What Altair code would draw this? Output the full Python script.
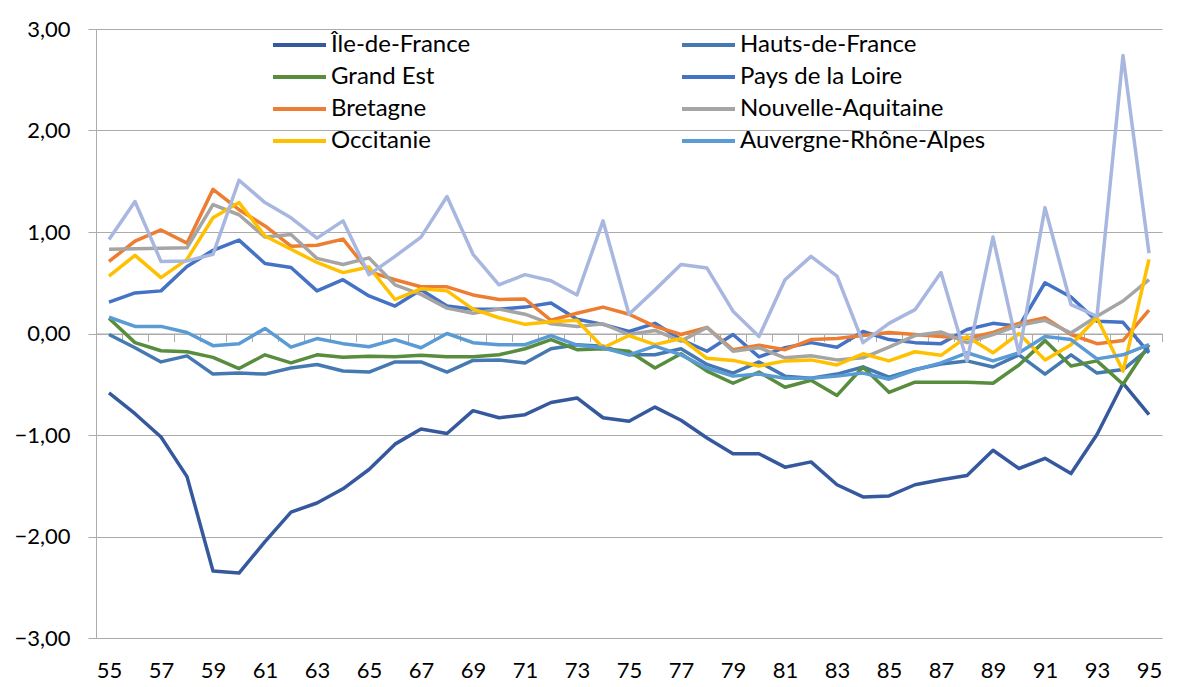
import altair as alt
import pandas as pd

years = list(range(55, 96))

regions = ["Île-de-France", "Hauts-de-France", "Grand Est", "Pays de la Loire",
           "Bretagne", "Nouvelle-Aquitaine", "Occitanie", "Auvergne-Rhône-Alpes"]
colors = ["#36599E", "#4679B1", "#578D3D", "#4472C4",
          "#ED7D31", "#A5A5A5", "#FFC000", "#5B9BD5"]
extra_name = "Autre région"
extra_color = "#A8B7DF"

idf = [-0.585, -0.79, -1.02, -1.41, -2.34, -2.36, -2.05, -1.76, -1.67, -1.53, -1.34, -1.09,
       -0.94, -0.985, -0.76, -0.83, -0.80, -0.68, -0.635, -0.83, -0.865, -0.725, -0.855, -1.03, -1.185, -1.185,
       -1.317, -1.265, -1.49, -1.61, -1.60, -1.49, -1.44, -1.40, -1.15, -1.33, -1.23, -1.38, -0.995, -0.49, -0.80]
hdf = [-0.01, -0.14, -0.28, -0.22, -0.40, -0.39, -0.40, -0.34, -0.305, -0.37, -0.38, -0.28,
       -0.28, -0.38, -0.265, -0.26, -0.29, -0.15, -0.11, -0.125, -0.21, -0.21, -0.15, -0.305, -0.39, -0.28,
       -0.42, -0.44, -0.40, -0.33, -0.43, -0.355, -0.30, -0.27, -0.33, -0.21, -0.40, -0.21, -0.39, -0.355, -0.15]
ge = [0.15, -0.09, -0.17, -0.18, -0.235, -0.345, -0.21, -0.29, -0.21, -0.235, -0.225, -0.23,
      -0.215, -0.23, -0.23, -0.21, -0.15, -0.06, -0.16, -0.15, -0.175, -0.34, -0.20, -0.37, -0.49, -0.38,
      -0.53, -0.46, -0.61, -0.33, -0.58, -0.48, -0.48, -0.48, -0.49, -0.31, -0.07, -0.32, -0.27, -0.50, -0.11]
pdl = [0.31, 0.40, 0.42, 0.66, 0.82, 0.92, 0.69, 0.65, 0.42, 0.53, 0.37, 0.27,
       0.43, 0.27, 0.24, 0.24, 0.26, 0.30, 0.14, 0.09, 0.02, 0.10, -0.06, -0.175, -0.01, -0.23,
       -0.14, -0.09, -0.135, 0.02, -0.06, -0.09, -0.10, 0.04, 0.10, 0.07, 0.50, 0.36, 0.12, 0.11, -0.19]
bret = [0.71, 0.91, 1.02, 0.89, 1.42, 1.22, 1.06, 0.86, 0.87, 0.93, 0.61, 0.53,
        0.46, 0.46, 0.38, 0.335, 0.34, 0.13, 0.20, 0.26, 0.19, 0.07, -0.01, 0.06, -0.16, -0.115,
        -0.16, -0.06, -0.05, -0.02, 0.01, -0.01, -0.03, -0.05, 0.01, 0.10, 0.155, -0.01, -0.10, -0.07, 0.23]
na = [0.83, 0.835, 0.84, 0.845, 1.27, 1.17, 0.95, 0.975, 0.74, 0.68, 0.745, 0.48,
      0.385, 0.25, 0.20, 0.24, 0.19, 0.095, 0.07, 0.095, -0.01, 0.03, -0.075, 0.06, -0.175, -0.14,
      -0.24, -0.22, -0.26, -0.24, -0.135, -0.02, 0.015, -0.09, -0.01, 0.08, 0.13, 0.005, 0.17, 0.32, 0.53]
occ = [0.565, 0.77, 0.55, 0.73, 1.14, 1.29, 0.96, 0.83, 0.70, 0.60, 0.655, 0.335,
       0.44, 0.42, 0.24, 0.155, 0.09, 0.115, 0.13, -0.14, -0.02, -0.11, -0.05, -0.245, -0.265, -0.32,
       -0.27, -0.26, -0.31, -0.20, -0.27, -0.18, -0.215, -0.03, -0.19, 0.00, -0.26, -0.11, 0.155, -0.37, 0.73]
ara = [0.16, 0.07, 0.07, 0.01, -0.12, -0.10, 0.05, -0.135, -0.05, -0.10, -0.13, -0.06,
       -0.14, 0.00, -0.09, -0.11, -0.11, -0.02, -0.115, -0.14, -0.21, -0.125, -0.21, -0.34, -0.42, -0.40,
       -0.44, -0.44, -0.42, -0.39, -0.45, -0.36, -0.29, -0.19, -0.27, -0.19, -0.03, -0.06, -0.25, -0.21, -0.11]
extra = [0.925, 1.30, 0.71, 0.715, 0.78, 1.51, 1.29, 1.14, 0.94, 1.11, 0.58, 0.76,
         0.95, 1.35, 0.78, 0.48, 0.58, 0.52, 0.38, 1.11, 0.19, 0.43, 0.68, 0.645, 0.22, -0.03,
         0.53, 0.76, 0.565, -0.09, 0.10, 0.235, 0.60, -0.27, 0.95, -0.20, 1.24, 0.285, 0.17, 2.74, 0.79]

y_ticks = [-3, -2, -1, 0, 1, 2, 3]
x_labels = [y for y in years if y % 2 == 1]
x_bounds = [y - 0.5 for y in years] + [years[-1] + 0.5]

series = [idf, hdf, ge, pdl, bret, na, occ, ara]
rows = []
for name, vals in zip(regions, series):
    for yr, v in zip(years, vals):
        rows.append({"annee": yr, "valeur": v, "region": name})
df = pd.DataFrame(rows)
df_extra = pd.DataFrame({"annee": years, "valeur": extra, "region": extra_name})

W, H = 1066, 609
FONT = "Lato"
GRID = "#ABABAB"

x_scale = alt.Scale(domain=[years[0] - 0.5, years[-1] + 0.5], nice=False, zero=False)
y_enc = alt.Y(
    "valeur:Q",
    scale=alt.Scale(domain=[-3, 3], nice=False),
    axis=alt.Axis(values=y_ticks, title=None, grid=True, gridColor=GRID, gridWidth=1,
                  domain=True, domainColor=GRID, tickColor=GRID, tickSize=8,
                  labelPadding=18, labelFontSize=22, labelFont=FONT, labelColor="#000000",
                  labelExpr="replace(format(datum.value, '.2f'), '.', ',')",
                  minExtent=80, maxExtent=80),
)

main = alt.Chart(df).mark_line(strokeWidth=3.5, strokeJoin="round").encode(
    x=alt.X("annee:Q", scale=x_scale,
            axis=alt.Axis(values=x_labels, title=None, grid=False, domain=False, ticks=False,
                          labelFontSize=22, labelFont=FONT, labelColor="#000000",
                          labelPadding=22, labelFlush=False, labelOverlap=False, format="d")),
    y=y_enc,
    color=alt.Color("region:N", scale=alt.Scale(domain=regions, range=colors),
                    legend=alt.Legend(title=None, orient="none", legendX=175, legendY=3,
                                      direction="horizontal", columns=2,
                                      columnPadding=209, rowPadding=6,
                                      symbolType="stroke", symbolSize=2809, symbolStrokeWidth=4,
                                      clipHeight=26, labelOffset=3,
                                      labelFontSize=24, labelFont=FONT, labelColor="#000000",
                                      labelLimit=400, padding=0)),
    order=alt.Order("annee:Q"),
)

extra_layer = alt.Chart(df_extra).mark_line(strokeWidth=3.5, strokeJoin="round", color=extra_color).encode(
    x=alt.X("annee:Q", scale=x_scale,
            axis=alt.Axis(values=x_bounds, orient="bottom", offset=-H / 2, title=None, grid=False,
                          labels=False, domain=True, domainColor=GRID, ticks=True,
                          tickColor=GRID, tickSize=8)),
    y=y_enc,
    order=alt.Order("annee:Q"),
)

chart = alt.layer(main, extra_layer).resolve_axis(x="independent").properties(
    width=W, height=H,
    padding={"left": 5, "top": 10, "right": 5, "bottom": 5},
).configure_view(stroke=None)

chart.save("out.html", embed_options={"renderer": "svg", "actions": False})
